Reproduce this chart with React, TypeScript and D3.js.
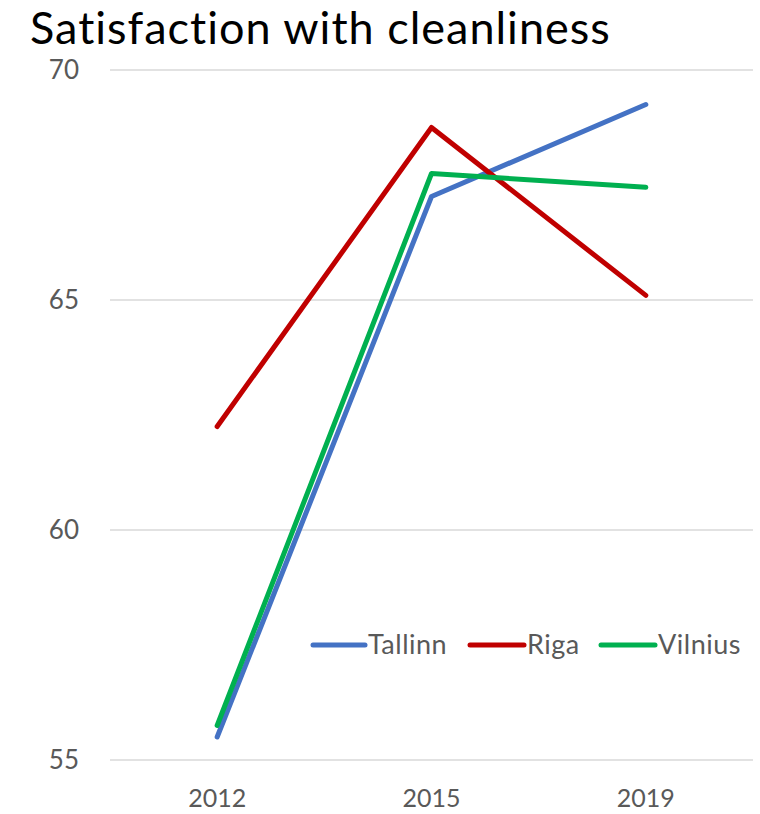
import React from "react";
import * as d3 from "d3";

const years = ["2012", "2015", "2019"];
const tallinn = [55.5, 67.25, 69.25];
const riga = [62.25, 68.75, 65.1];
const vilnius = [55.75, 67.75, 67.45];
const yTicks = [55, 60, 65, 70];

const series = [
  { name: "Tallinn", values: tallinn, color: "#4472C4" },
  { name: "Riga", values: riga, color: "#C00000" },
  { name: "Vilnius", values: vilnius, color: "#00B050" },
];

const width = 760;
const height = 814;
const margin = { top: 70, right: 7, bottom: 54, left: 110 };
const font = "Lato, 'Open Sans', sans-serif";

export default function App() {
  const x = d3
    .scaleBand()
    .domain(years)
    .range([margin.left, width - margin.right]);

  const y = d3
    .scaleLinear()
    .domain([55, 70])
    .range([height - margin.bottom, margin.top]);

  const line = d3
    .line<number>()
    .x((d, i) => x(years[i])! + x.bandwidth() / 2)
    .y((d) => y(d));

  // legend positions (sample line + label)
  const legend = [
    { x: 313, w: 52 },
    { x: 470, w: 54 },
    { x: 601, w: 54 },
  ];
  const legendY = 645;

  return (
    <svg
      width={width}
      height={height}
      style={{ position: "absolute", left: 0, top: 0, background: "#fff" }}
    >
      <text
        x={30}
        y={44}
        fontFamily={font}
        fontSize={45}
        letterSpacing={1}
        fill="#000"
      >
        Satisfaction with cleanliness
      </text>

      {yTicks.map((t) => (
        <g key={t}>
          <line
            x1={margin.left}
            x2={width - margin.right}
            y1={y(t)}
            y2={y(t)}
            stroke="#D9D9D9"
            strokeWidth={1.5}
          />
          <text
            x={79}
            y={y(t)}
            dy="0.35em"
            textAnchor="end"
            fontFamily={font}
            fontSize={26}
            fill="#595959"
          >
            {t}
          </text>
        </g>
      ))}

      {years.map((yr) => (
        <text
          key={yr}
          x={x(yr)! + x.bandwidth() / 2}
          y={807}
          textAnchor="middle"
          fontFamily={font}
          fontSize={25}
          fill="#595959"
        >
          {yr}
        </text>
      ))}

      {series.map((s) => (
        <path
          key={s.name}
          d={line(s.values)!}
          fill="none"
          stroke={s.color}
          strokeWidth={5}
          strokeLinecap="round"
          strokeLinejoin="round"
        />
      ))}

      {series.map((s, i) => (
        <g key={s.name}>
          <line
            x1={legend[i].x}
            x2={legend[i].x + legend[i].w}
            y1={legendY}
            y2={legendY}
            stroke={s.color}
            strokeWidth={5}
            strokeLinecap="round"
          />
          <text
            x={legend[i].x + legend[i].w + 3}
            y={legendY}
            dy="0.35em"
            fontFamily={font}
            fontSize={27}
            letterSpacing={0.5}
            fill="#595959"
          >
            {s.name}
          </text>
        </g>
      ))}
    </svg>
  );
}
